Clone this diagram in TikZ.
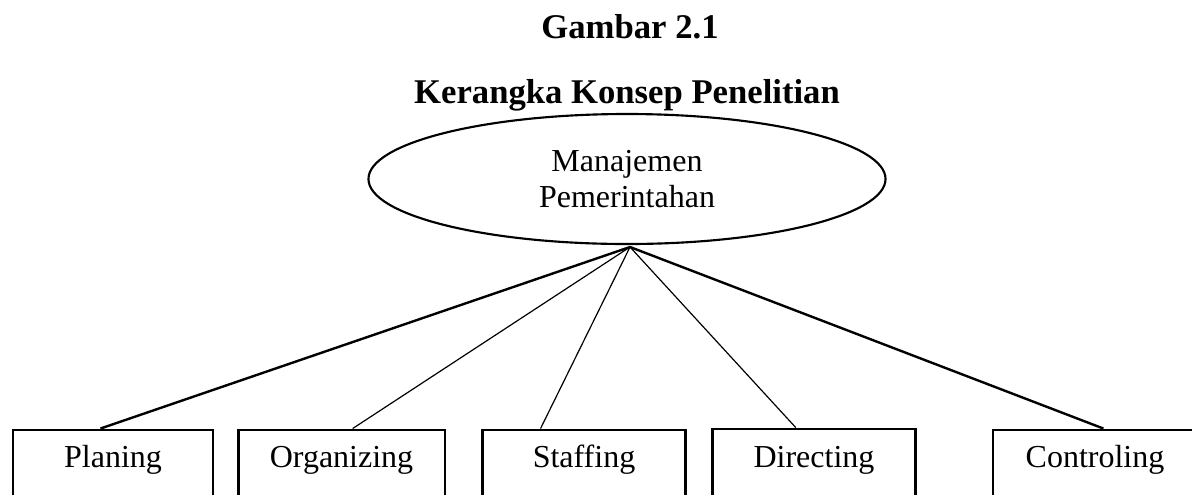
\documentclass[tikz,border=0pt]{standalone}
\usepackage{fontspec}
\setmainfont{Liberation Serif}
\usetikzlibrary{shapes,positioning}

\begin{document}
\begin{tikzpicture}[x=0.375pt,y=-0.375pt,
  box/.style={draw,line width=1.1pt,minimum height=26.25pt,inner sep=0pt,text height=8.5pt,text depth=7pt,font=\fontsize{12}{13.8}\selectfont},
  thinline/.style={line width=0.45pt},
  boldline/.style={line width=0.9pt},
  heading/.style={anchor=base,font=\bfseries\fontsize{13}{15.6}\selectfont}]
\useasboundingbox (0,0) rectangle (1192,494);
\node [heading] (fig) at (630,38) {Gambar 2.1};
\node [heading] (title) at (627,103) {Kerangka Konsep Penelitian};
\node [draw,ellipse,line width=0.8pt,minimum width=193.9pt,minimum height=48.75pt,inner sep=0pt,align=center,font=\fontsize{12}{13.2}\selectfont] (mgmt) at (627,179) {Manajemen\\Pemerintahan};
\coordinate (hub) at (630,247);
\node [box,minimum width=75pt] (planing) at (113,465) {Planing};
\node [box,minimum width=77.6pt] (organizing) at (341.5,465) {Organizing};
\node [box,minimum width=75.8pt] (staffing) at (584,465) {Staffing};
\node [box,minimum width=75.8pt,minimum height=27pt] (directing) at (814,465) {Directing};
\node [box,minimum width=76.5pt] (controling) at (1095,465) {Controling};
\draw [boldline] (hub) -- (planing.109);
\draw [thinline] (hub) -- (organizing.73);
\draw [thinline] (hub) -- (staffing.140);
\draw [thinline] (hub) -- (directing.116);
\draw [boldline] (hub) -- (controling.77);
\end{tikzpicture}
\end{document}
